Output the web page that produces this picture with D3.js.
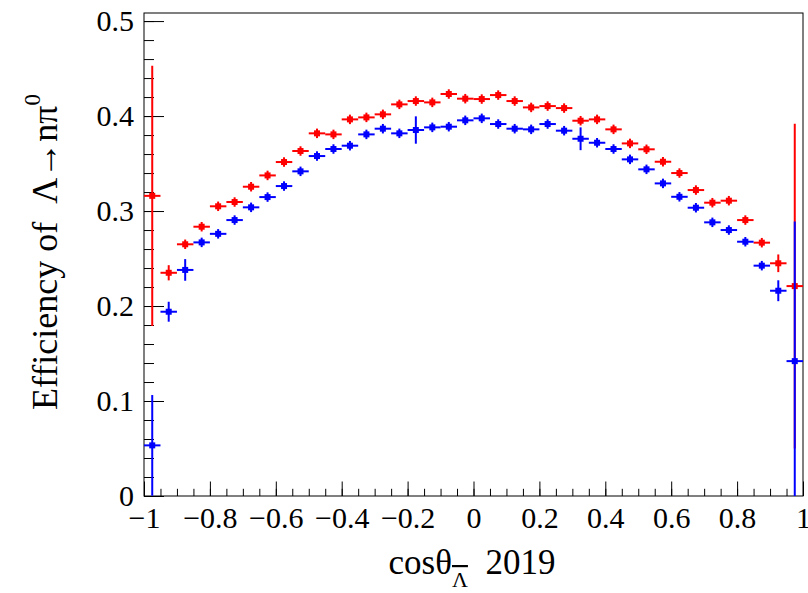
<!DOCTYPE html>
<html>
<head>
<meta charset="utf-8">
<script src="https://cdn.jsdelivr.net/npm/d3@7"></script>
<style>
  body { margin: 0; background: #fff; }
  text { font-family: "Liberation Serif", "Times New Roman", serif; }
</style>
</head>
<body>
<div id="chart"></div>
<script>
// bin centres of cos(theta), 40 bins of width 0.05
var binCenters = [-0.975, -0.925, -0.875, -0.825, -0.775, -0.725, -0.675, -0.625, -0.575, -0.525,
                  -0.475, -0.425, -0.375, -0.325, -0.275, -0.225, -0.175, -0.125, -0.075, -0.025,
                   0.025,  0.075,  0.125,  0.175,  0.225,  0.275,  0.325,  0.375,  0.425,  0.475,
                   0.525,  0.575,  0.625,  0.675,  0.725,  0.775,  0.825,  0.875,  0.925,  0.975];
var binHalfWidth = 0.025;

var redValues = [0.316, 0.235, 0.265, 0.2835, 0.305, 0.3095, 0.3256, 0.3375, 0.3516, 0.3632,
                 0.3818, 0.3807, 0.3965, 0.3986, 0.4018, 0.4123, 0.4158, 0.4144, 0.4232, 0.4183,
                 0.4179, 0.4221, 0.4158, 0.4091, 0.4105, 0.4084, 0.3951, 0.3965, 0.386, 0.3712,
                 0.365, 0.3519, 0.340, 0.3221, 0.3088, 0.3109, 0.2905, 0.2667, 0.245, 0.221];
var redErrors = [0.137, 0.008, 0.005, 0.005, 0.005, 0.005, 0.005, 0.005, 0.005, 0.005,
                 0.005, 0.005, 0.005, 0.005, 0.005, 0.005, 0.005, 0.005, 0.005, 0.005,
                 0.005, 0.005, 0.005, 0.005, 0.005, 0.005, 0.005, 0.005, 0.005, 0.005,
                 0.005, 0.005, 0.005, 0.005, 0.005, 0.005, 0.005, 0.005, 0.0093, 0.171];

var blueValues = [0.0533, 0.194, 0.238, 0.267, 0.276, 0.2905, 0.3039, 0.3147, 0.3263, 0.3418,
                  0.3579, 0.3653, 0.3688, 0.3807, 0.3867, 0.3818, 0.3853, 0.3881, 0.3888, 0.3955,
                  0.3976, 0.3916, 0.3867, 0.386, 0.3916, 0.3846, 0.3761, 0.3719, 0.3653, 0.3544,
                  0.3439, 0.3291, 0.315, 0.3035, 0.2881, 0.28, 0.2677, 0.2425, 0.2161, 0.142];
var blueErrors = [0.053, 0.0105, 0.0114, 0.005, 0.005, 0.005, 0.005, 0.005, 0.005, 0.005,
                  0.005, 0.005, 0.005, 0.005, 0.005, 0.005, 0.0144, 0.005, 0.005, 0.005,
                  0.005, 0.005, 0.005, 0.005, 0.005, 0.005, 0.012, 0.005, 0.005, 0.005,
                  0.005, 0.005, 0.005, 0.005, 0.005, 0.005, 0.005, 0.005, 0.011, 0.147];

var xTicks = [-1, -0.8, -0.6, -0.4, -0.2, 0, 0.2, 0.4, 0.6, 0.8, 1];
var yTicks = [0, 0.1, 0.2, 0.3, 0.4, 0.5];

// dimensions of the frame
var width = 808, height = 593;
var frame = { left: 144, right: 803, top: 13, bottom: 496 };

var svg = d3.select("#chart")
    .append("svg")
    .attr("width", width)
    .attr("height", height);

var x = d3.scaleLinear().domain([-1, 1]).range([frame.left, frame.right]);
var y = d3.scaleLinear().domain([0, 0.5085]).range([frame.bottom, frame.top]);

// frame box
svg.append("rect")
    .attr("x", frame.left)
    .attr("y", frame.top)
    .attr("width", frame.right - frame.left)
    .attr("height", frame.bottom - frame.top)
    .attr("fill", "none")
    .attr("stroke", "#000")
    .attr("stroke-width", 1);

function fmt(d) {
    return d == 0 ? "0" : d3.format("")(d);
}

// minor ticks
svg.append("g")
    .attr("transform", "translate(0," + frame.bottom + ")")
    .call(d3.axisBottom(x).tickValues(d3.range(-1, 1.001, 0.05)).tickSize(-7.2).tickFormat(""))
    .call(g => g.select(".domain").remove());
svg.append("g")
    .attr("transform", "translate(" + frame.left + ",0)")
    .call(d3.axisLeft(y).tickValues(d3.range(0, 0.501, 0.02)).tickSize(-10).tickFormat(""))
    .call(g => g.select(".domain").remove());

// major ticks + labels
var xAxis = svg.append("g")
    .attr("transform", "translate(0," + frame.bottom + ")")
    .call(d3.axisBottom(x).tickValues(xTicks).tickSize(-14.5).tickPadding(11).tickFormat(fmt));
xAxis.select(".domain").remove();
xAxis.selectAll("text").style("font-size", "30px").attr("fill", "#000")
    .style("font-family", "Liberation Serif");

var yAxis = svg.append("g")
    .attr("transform", "translate(" + frame.left + ",0)")
    .call(d3.axisLeft(y).tickValues(yTicks).tickSize(-20).tickPadding(10).tickFormat(fmt));
yAxis.select(".domain").remove();
yAxis.selectAll("text").style("font-size", "30px").attr("fill", "#000")
    .style("font-family", "Liberation Serif");

svg.selectAll(".tick line").attr("stroke", "#000");

// draw one histogram with error bars
function drawSeries(values, errors, color) {
    var data = binCenters.map(function (c, i) {
        return { x: c, v: values[i], e: errors[i] };
    });
    var g = svg.append("g");
    g.selectAll(".hbar").data(data).enter().append("line")
        .attr("x1", d => x(d.x - binHalfWidth))
        .attr("x2", d => x(d.x + binHalfWidth))
        .attr("y1", d => y(d.v))
        .attr("y2", d => y(d.v))
        .attr("stroke", color)
        .attr("stroke-width", 2);
    g.selectAll(".vbar").data(data).enter().append("line")
        .attr("x1", d => x(d.x))
        .attr("x2", d => x(d.x))
        .attr("y1", d => y(Math.max(0, d.v - d.e)))
        .attr("y2", d => y(d.v + d.e))
        .attr("stroke", color)
        .attr("stroke-width", 2);
    g.selectAll(".mk").data(data).enter().append("rect")
        .attr("x", d => x(d.x) - 3)
        .attr("y", d => y(d.v) - 3)
        .attr("width", 6)
        .attr("height", 6)
        .attr("fill", color);
}

drawSeries(redValues, redErrors, "#ff0000");
drawSeries(blueValues, blueErrors, "#0000ff");

// x title: cos theta with Lambda-bar subscript
var xt = svg.append("text")
    .attr("x", 472)
    .attr("y", 574)
    .attr("text-anchor", "middle")
    .attr("xml:space", "preserve")
    .style("font-size", "35px")
    .attr("fill", "#000");
xt.append("tspan").text("cosθ");
xt.append("tspan").attr("dy", 13).style("font-size", "22px")
    .style("text-decoration", "overline").text("Λ");
xt.append("tspan").attr("dy", -13).text("  2019");

// y title
var yt = svg.append("text")
    .attr("transform", "translate(57,252) rotate(-90)")
    .attr("text-anchor", "middle")
    .attr("xml:space", "preserve")
    .style("font-size", "36px")
    .attr("fill", "#000");
yt.append("tspan").text("Efficiency of  Λ→nπ");
yt.append("tspan").attr("dy", -17).style("font-size", "23px").text("0");
</script>
</body>
</html>
